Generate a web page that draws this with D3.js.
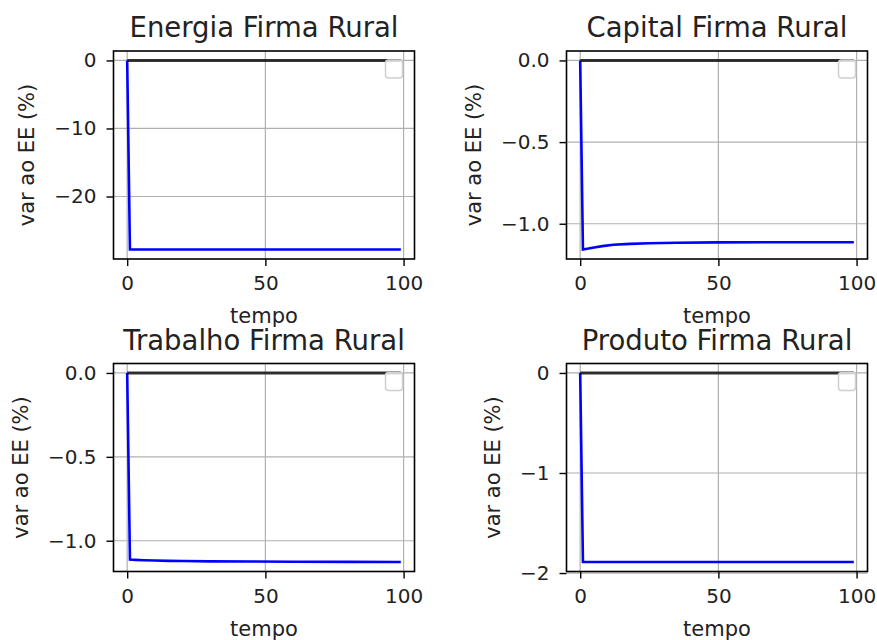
<!DOCTYPE html>
<html lang="pt">
<head>
	<meta charset="UTF-8">
	<title>Firma Rural</title>
	<style>
		body { margin: 0; background: #fff; }
		svg text { font-family: "DejaVu Sans", sans-serif; fill: #222; }
	</style>
</head>
<body>
	<svg id="cont" width="877" height="640"></svg>
<script src="https://cdn.jsdelivr.net/npm/d3@7"></script>
<script>
	// dados (tempo, variacao em % ao estado estacionario)
	const titulos = ["Energia Firma Rural", "Capital Firma Rural", "Trabalho Firma Rural", "Produto Firma Rural"];

	const energiaT = [0, 1, 99];
	const energiaV = [0, -27.8, -27.8];

	const capitalT = [0, 1, 3, 5, 8, 12, 18, 25, 35, 50, 70, 99];
	const capitalV = [0, -1.158, -1.152, -1.145, -1.137, -1.129, -1.123, -1.119, -1.116, -1.114, -1.113, -1.113];

	const trabalhoT = [0, 1, 3, 6, 10, 15, 20, 30, 45, 60, 80, 99];
	const trabalhoV = [0, -1.112, -1.114, -1.116, -1.118, -1.120, -1.121, -1.123, -1.124, -1.125, -1.126, -1.127];

	const produtoT = [0, 1, 99];
	const produtoV = [0, -1.89, -1.89];

	// linha preta do estado estacionario
	const eeT = [0, 99];
	const eeV = [0, 0];

	const xTicks = [0, 50, 100];
	const yTicksEnergia = [0, -10, -20];
	const yTicksCapital = [0, -0.5, -1.0];
	const yTicksTrabalho = [0, -0.5, -1.0];
	const yTicksProduto = [0, -1, -2];

	const series = [
		{t: energiaT, v: energiaV, ticks: yTicksEnergia, fmt: "d"},
		{t: capitalT, v: capitalV, ticks: yTicksCapital, fmt: ".1f"},
		{t: trabalhoT, v: trabalhoV, ticks: yTicksTrabalho, fmt: ".1f"},
		{t: produtoT, v: produtoV, ticks: yTicksProduto, fmt: "d"}
	];

	let svg = d3.select("#cont");
	let colX = [113.5, 566.5];
	let rowY = [51, 363.5];
	let w = 301, h = 208;

	series.forEach((s, i) => {
		let x0 = colX[i % 2], y0 = rowY[Math.floor(i / 2)];
		let g = svg.append("g").attr("transform", `translate(${x0},${y0})`);

		let tAll = s.t.concat(eeT);
		let tmin = d3.min(tAll), tmax = d3.max(tAll);
		let tm = (tmax - tmin) * 0.05;
		let x = d3.scaleLinear().domain([tmin - tm, tmax + tm]).range([0, w]);

		let vAll = s.v.concat(eeV);
		let vmin = d3.min(vAll), vmax = d3.max(vAll);
		let vm = (vmax - vmin) * 0.05;
		let y = d3.scaleLinear().domain([vmin - vm, vmax + vm]).range([h, 0]);

		// grade
		g.append("g").selectAll("line").data(xTicks).join("line")
			.attr("x1", d => x(d)).attr("x2", d => x(d))
			.attr("y1", 0).attr("y2", h)
			.attr("stroke", "#b0b0b0").attr("stroke-width", 1.2);
		g.append("g").selectAll("line").data(s.ticks).join("line")
			.attr("x1", 0).attr("x2", w)
			.attr("y1", d => y(d)).attr("y2", d => y(d))
			.attr("stroke", "#b0b0b0").attr("stroke-width", 1.2);

		let line = d3.line().x(d => x(d[0])).y(d => y(d[1]));

		g.append("path")
			.datum(s.t.map((t, k) => [t, s.v[k]]))
			.attr("d", line)
			.attr("fill", "none")
			.attr("stroke", "#0000ff")
			.attr("stroke-width", 2.6);

		g.append("path")
			.datum(eeT.map((t, k) => [t, eeV[k]]))
			.attr("d", line)
			.attr("fill", "none")
			.attr("stroke", "#000")
			.attr("stroke-opacity", 0.78)
			.attr("stroke-width", 3);

		// legenda vazia
		g.append("rect")
			.attr("x", w - 12 - 17).attr("y", 9)
			.attr("width", 17).attr("height", 18)
			.attr("rx", 3)
			.attr("fill", "#fff").attr("fill-opacity", 0.8)
			.attr("stroke", "#d0d0d0").attr("stroke-width", 1.5);

		// eixos
		let minus = v => d3.format(s.fmt)(v).replace("-", "\u2212");
		let xa = g.append("g").attr("transform", `translate(0,${h})`)
			.call(d3.axisBottom(x).tickValues(xTicks).tickSize(7).tickPadding(10));
		let ya = g.append("g")
			.call(d3.axisLeft(y).tickValues(s.ticks).tickFormat(minus).tickSize(7).tickPadding(10));
		[xa, ya].forEach(a => {
			a.select(".domain").remove();
			a.selectAll("line").attr("stroke", "#000").attr("stroke-width", 1.4);
			a.selectAll("text").attr("font-size", 20).style("fill", "#222");
			a.attr("font-family", null);
		});

		g.append("rect")
			.attr("width", w).attr("height", h)
			.attr("fill", "none")
			.attr("stroke", "#000").attr("stroke-width", 1.6);

		// titulos e rotulos
		g.append("text")
			.attr("x", w / 2).attr("y", -14)
			.attr("text-anchor", "middle")
			.attr("font-size", 27.5)
			.text(titulos[i]);

		g.append("text")
			.attr("x", w / 2).attr("y", h + 64)
			.attr("text-anchor", "middle")
			.attr("font-size", 21)
			.text("tempo");

		let left = d3.min(ya.selectAll("text").nodes(), n => n.getBBox().x);
		g.append("text")
			.attr("transform", `translate(${left - 20},${h / 2}) rotate(-90)`)
			.attr("text-anchor", "middle")
			.attr("font-size", 21)
			.text("var ao EE (%)");
	});
</script>
</body>
</html>
